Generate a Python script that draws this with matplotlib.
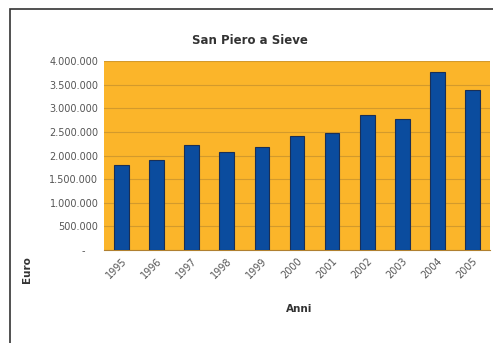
import matplotlib.pyplot as plt
from matplotlib.patches import Rectangle
from matplotlib.ticker import FuncFormatter

# %% data
years = ['1995', '1996', '1997', '1998', '1999', '2000', '2001', '2002', '2003', '2004', '2005']
euro = [1800000, 1910000, 2230000, 2080000, 2170000, 2420000, 2470000, 2850000, 2770000, 3760000, 3390000]
yticks = [0, 500000, 1000000, 1500000, 2000000, 2500000, 3000000, 3500000, 4000000]

def fmt(v, pos):
    if v == 0:
        return '-    '
    return f'{int(v):,}'.replace(',', '.')

# %% plot
fig = plt.figure(figsize=(4.93, 3.43), dpi=100)
fig.patches.append(Rectangle((10 / 493, -0.1), 1.2, (343 - 9) / 343 + 0.1,
                             transform=fig.transFigure, fill=False,
                             edgecolor='#333333', linewidth=1.2))
ax = fig.add_axes([104 / 493, 93 / 343, 386 / 493, 189 / 343])
ax.set_facecolor('#FBB52A')
ax.bar(range(len(years)), euro, width=0.42, color='#0B4C9E', edgecolor='#1a2f55',
       linewidth=0.8, zorder=3)
ax.set_xlim(-0.5, len(years) - 0.5)
ax.set_ylim(0, 4000000)
ax.set_yticks(yticks)
ax.yaxis.set_major_formatter(FuncFormatter(fmt))
ax.grid(axis='y', color='#D39A2C', linewidth=0.8, zorder=1)
ax.set_xticks(range(len(years)))
ax.set_xticklabels(years, rotation=45, ha='right', rotation_mode='anchor')
ax.tick_params(length=0, labelsize=7, labelcolor='#555555', pad=4)
for s in ax.spines.values():
    s.set_visible(False)
ax.spines['bottom'].set_visible(True)
ax.spines['bottom'].set_color('#B08030')

fig.text(250 / 493, 1 - 40 / 343, 'San Piero a Sieve', ha='center', va='center',
         fontsize=8.5, fontweight='bold', color='#333333')
fig.text(27 / 493, 1 - 270 / 343, 'Euro', ha='center', va='center', rotation=90,
         fontsize=7.5, fontweight='bold', color='#333333')
fig.text(299 / 493, 1 - 309 / 343, 'Anni', ha='center', va='center',
         fontsize=7.5, fontweight='bold', color='#333333')

fig.savefig('out.png', dpi=100)
